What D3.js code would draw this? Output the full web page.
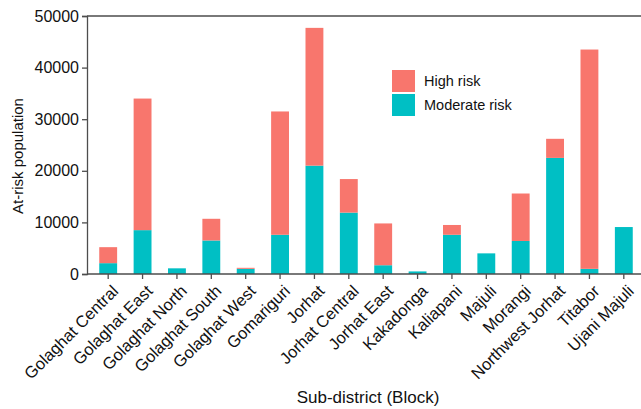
<!DOCTYPE html>
<html>
<head>
<meta charset="utf-8">
<script src="https://cdn.jsdelivr.net/npm/d3@7/dist/d3.min.js"></script>
<style>
  html, body { margin: 0; padding: 0; background: #fff; }
  svg { display: block; font-family: "Liberation Sans", Arial, sans-serif; }
</style>
</head>
<body>
<svg id="chart" width="641" height="409"></svg>
<script>
// Sub-districts (blocks) and at-risk population by risk level
const blocks = ["Golaghat Central", "Golaghat East", "Golaghat North", "Golaghat South",
  "Golaghat West", "Gomariguri", "Jorhat", "Jorhat Central", "Jorhat East", "Kakadonga",
  "Kaliapani", "Majuli", "Morangi", "Northwest Jorhat", "Titabor", "Ujani Majuli"];
const moderateRisk = [2100, 8500, 1100, 6500, 1000, 7600, 21000, 11900, 1700, 500,
  7600, 4000, 6400, 22500, 1000, 9100];
const highRisk = [3100, 25500, 0, 4200, 200, 23900, 26700, 6500, 8100, 0,
  1900, 0, 9200, 3700, 42500, 0];
const yTicks = [0, 10000, 20000, 30000, 40000, 50000];
const seriesNames = ["High risk", "Moderate risk"];
const seriesColors = ["#F8766D", "#00BFC4"];

const svg = d3.select("#chart");
const axisColor = "#4d4d4d";
const plotLeft = 87, plotTop = 16, plotBottom = 274, plotRight = 641;

const rows = blocks.map((b, i) => ({ block: b, moderate: moderateRisk[i], high: highRisk[i] }));
const stack = d3.stack().keys(["moderate", "high"])(rows);

const x = d3.scaleBand().domain(blocks).range([91, 641]).paddingInner(0.48).paddingOuter(0.24);
const y = d3.scaleLinear().domain([0, 50000]).range([plotBottom, plotTop]);
const color = d3.scaleOrdinal().domain(["high", "moderate"]).range(seriesColors);

// stacked bars
svg.append("g").selectAll("g").data(stack).join("g")
  .attr("fill", d => color(d.key))
  .selectAll("rect").data(d => d.filter(s => s[1] > s[0])).join("rect")
  .attr("x", d => x(d.data.block))
  .attr("width", x.bandwidth())
  .attr("y", d => y(d[1]))
  .attr("height", d => y(d[0]) - y(d[1]));

// frame line along the top
svg.append("line").attr("x1", plotLeft).attr("x2", plotRight).attr("y1", plotTop).attr("y2", plotTop)
  .attr("stroke", axisColor).attr("stroke-width", 1.3);

// y axis
const yAxis = svg.append("g").attr("transform", `translate(${plotLeft},0)`)
  .call(d3.axisLeft(y).tickValues(yTicks).tickFormat(d3.format("d")).tickSize(5).tickPadding(3));
yAxis.select(".domain").attr("stroke", axisColor).attr("stroke-width", 1.3);
yAxis.selectAll(".tick line").attr("stroke", axisColor).attr("stroke-width", 1.3);
yAxis.selectAll(".tick text").attr("font-size", 16).attr("fill", "#111")
  .attr("font-family", "Liberation Sans, Arial, sans-serif");

// x axis
const xAxis = svg.append("g").attr("transform", `translate(0,${plotBottom})`)
  .call(d3.axisBottom(x).tickSize(5).tickSizeOuter(0));
xAxis.select(".domain").attr("d", `M${plotLeft},0H${plotRight}`)
  .attr("stroke", axisColor).attr("stroke-width", 1.3);
xAxis.selectAll(".tick line").attr("stroke", axisColor).attr("stroke-width", 1.3);
xAxis.selectAll(".tick text")
  .attr("font-size", 16.5).attr("fill", "#111")
  .attr("font-family", "Liberation Sans, Arial, sans-serif")
  .attr("text-anchor", "end")
  .attr("x", 0).attr("y", 0).attr("dy", "0.35em")
  .attr("transform", "translate(7,14) rotate(-45)");

// axis titles
svg.append("text").attr("x", 368).attr("y", 403).attr("text-anchor", "middle")
  .attr("font-size", 17).attr("fill", "#111").text("Sub-district (Block)");
svg.append("text").attr("transform", "translate(23,156) rotate(-90)")
  .attr("text-anchor", "middle").attr("font-size", 15).attr("fill", "#111")
  .text("At-risk population");

// legend
const legend = svg.append("g").attr("transform", "translate(392,70)");
seriesNames.forEach((name, i) => {
  const g = legend.append("g").attr("transform", `translate(0,${i * 24})`);
  g.append("rect").attr("width", 23).attr("height", 22).attr("fill", seriesColors[i]);
  g.append("text").attr("x", 32).attr("y", 11).attr("dy", "0.35em")
    .attr("font-size", 14.5).attr("fill", "#111").text(name);
});
</script>
</body>
</html>
